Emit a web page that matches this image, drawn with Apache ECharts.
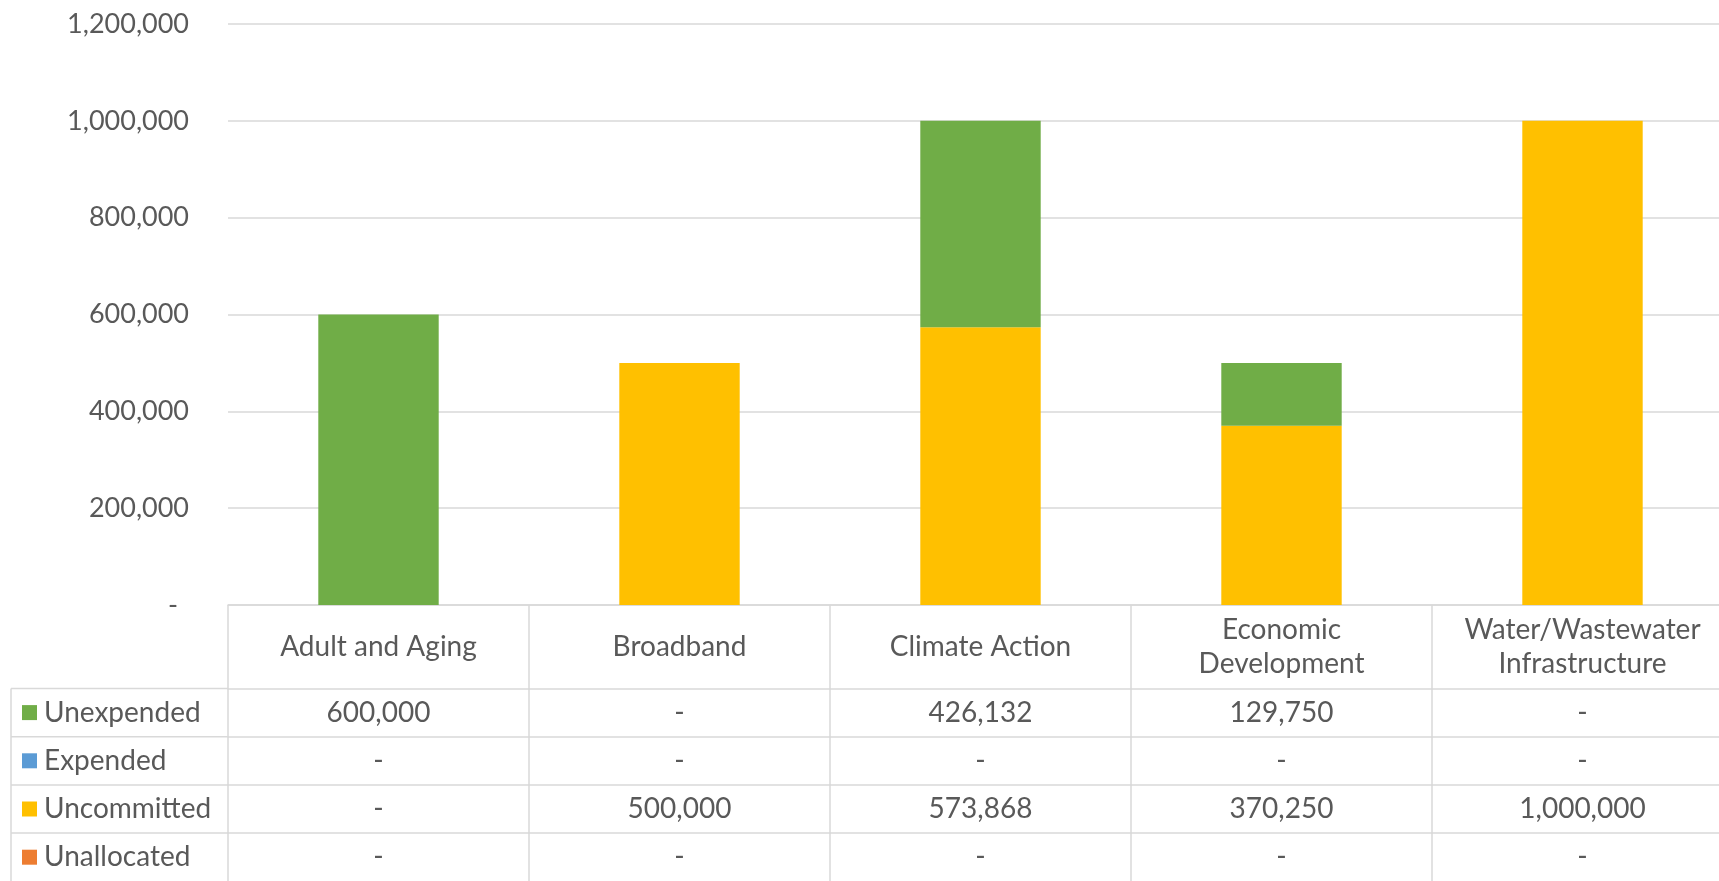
<!DOCTYPE html>
<html>
<head>
<meta charset="utf-8">
<script src="https://cdn.jsdelivr.net/npm/echarts@6/dist/echarts.min.js"></script>
<style>
  html, body { margin: 0; padding: 0; background: #fff; overflow: hidden; }
  /* the reference chart runs a little past the right edge of the picture */
  #main { width: 1733px; height: 881px; }
</style>
</head>
<body>
<div id="main"></div>
<script>
// data
const categories = ['Adult and Aging', 'Broadband', 'Climate Action', 'Economic\nDevelopment', 'Water/Wastewater\nInfrastructure'];
const unexpended = [600000, 0, 426132, 129750, 0];
const expended = [0, 0, 0, 0, 0];
const uncommitted = [0, 500000, 573868, 370250, 1000000];
const unallocated = [0, 0, 0, 0, 0];
const yMax = 1200000;
const yStep = 200000;

// table rows, in the order they are listed under the chart
const rows = [
  { name: 'Unexpended', data: unexpended, color: '#70AD47' },
  { name: 'Expended', data: expended, color: '#5B9BD5' },
  { name: 'Uncommitted', data: uncommitted, color: '#FFC000' },
  { name: 'Unallocated', data: unallocated, color: '#ED7D31' }
];

const FONT = 'Lato, "Open Sans", sans-serif';
const TEXT = '#595959';
const LINE = '#D9D9D9';
const AXIS_Y = 605;      // zero line, in px
const HEAD_H = 83.5;     // category label row
const ROW_H = 48.2;      // each data row
const GRID_LEFT = 228;
const TABLE_LEFT = 11;

const fmt = v => (v === 0 ? '-' : v.toLocaleString('en-US'));

const chart = echarts.init(document.getElementById('main'));

// category axis + one extra axis per table row (its line is the row's top border)
const xAxes = [{
  type: 'category',
  data: categories,
  position: 'bottom',
  axisLine: { lineStyle: { color: LINE, width: 1.5 } },
  axisTick: { show: true, length: 881 - AXIS_Y, lineStyle: { color: LINE, width: 1.5 } },
  axisLabel: {
    color: TEXT, fontFamily: FONT, fontSize: 28, lineHeight: 34,
    margin: HEAD_H / 2, verticalAlign: 'middle', interval: 0
  }
}];
rows.forEach((r, i) => {
  xAxes.push({
    type: 'category',
    data: categories,
    position: 'bottom',
    offset: HEAD_H + i * ROW_H,
    axisLine: { lineStyle: { color: LINE, width: 1.5 } },
    axisTick: { show: false },
    axisLabel: {
      color: TEXT, fontFamily: FONT, fontSize: 28,
      margin: ROW_H / 2, verticalAlign: 'middle', interval: 0,
      formatter: (val, idx) => fmt(r.data[idx])
    }
  });
});

// stacked bars: first series sits at the bottom
const stackOrder = [rows[3], rows[2], rows[1], rows[0]];

const option = {
  animation: false,
  textStyle: { fontFamily: FONT },
  grid: { left: GRID_LEFT, right: 0, top: 24, bottom: 881 - AXIS_Y },
  legend: {
    orient: 'vertical',
    left: 22,
    top: AXIS_Y + HEAD_H + ROW_H / 2 - 14,
    padding: 0,
    itemGap: ROW_H - 28,
    itemWidth: 15,
    itemHeight: 15,
    icon: 'rect',
    selectedMode: false,
    data: rows.map(r => r.name),
    textStyle: { color: TEXT, fontSize: 28, lineHeight: 28, padding: [0, 0, 0, 2] }
  },
  xAxis: xAxes,
  yAxis: {
    type: 'value',
    min: 0,
    max: yMax,
    interval: yStep,
    axisLine: { show: false },
    axisTick: { show: false },
    splitLine: { lineStyle: { color: LINE, width: 1.5 } },
    axisLabel: {
      color: TEXT, fontFamily: FONT, fontSize: 27, margin: 39,
      formatter: v => (v === 0 ? '{z|-}' : fmt(v)),
      rich: { z: { color: TEXT, fontFamily: FONT, fontSize: 27, padding: [0, 11, 0, 0] } }
    }
  },
  series: stackOrder.map(r => ({
    name: r.name,
    type: 'bar',
    stack: 'total',
    barWidth: '40%',
    itemStyle: { color: r.color },
    data: r.data
  })),
  // left header column borders of the data table
  graphic: rows.map((r, i) => ({
    type: 'line',
    shape: { x1: TABLE_LEFT, y1: AXIS_Y + HEAD_H + i * ROW_H, x2: GRID_LEFT, y2: AXIS_Y + HEAD_H + i * ROW_H },
    style: { stroke: LINE, lineWidth: 1.5 }
  })).concat([{
    type: 'line',
    shape: { x1: TABLE_LEFT, y1: AXIS_Y + HEAD_H, x2: TABLE_LEFT, y2: 881 },
    style: { stroke: LINE, lineWidth: 1.5 }
  }])
};

chart.setOption(option);
</script>
</body>
</html>
